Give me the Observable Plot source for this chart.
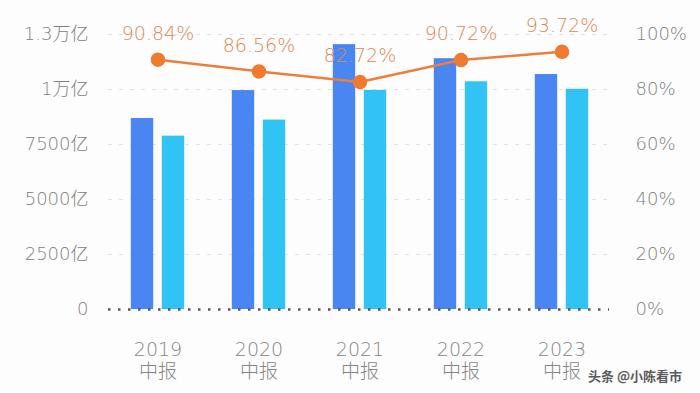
<!DOCTYPE html>
<html>
<head>
<meta charset="utf-8">
<script src="https://cdn.jsdelivr.net/npm/d3@7"></script>
<script src="https://cdn.jsdelivr.net/npm/@observablehq/plot@0.6"></script>
<style>
  html, body { margin: 0; padding: 0; background: #fdfdfd; }
  #chart { width: 700px; height: 393px; position: relative; }
  .wm { position: absolute; left: 588px; top: 366px; font: bold 13px "Noto Sans CJK SC", sans-serif; color: #333; opacity: 0.8; }
</style>
</head>
<body>
<div id="chart"></div>
<script>
// Data
const periods = ["2019\n中报", "2020\n中报", "2021\n中报", "2022\n中报", "2023\n中报"];
const seriesA = [8680, 9950, 12040, 11400, 10680];   // dark blue bars (亿)
const seriesB = [7880, 8610, 9960, 10350, 10010];    // light blue bars (亿)
const ratios = [90.84, 86.56, 82.72, 90.72, 93.72];  // orange line (%)
const leftTicks = [0, 2500, 5000, 7500, 10000, 12500];
const leftTickLabels = ["0", "2500亿", "5000亿", "7500亿", "1万亿", "1.3万亿"];
const rightTickLabels = ["0%", "20%", "40%", "60%", "80%", "100%"];

const maxLeft = 12500; // 100% on the right axis aligns with this value
const barsA = periods.map((p, i) => ({period: p, value: seriesA[i]}));
const barsB = periods.map((p, i) => ({period: p, value: seriesB[i]}));
const line = periods.map((p, i) => ({period: p, pct: ratios[i], y: ratios[i] / 100 * maxLeft}));

const band = (613 - 105) / periods.length;
const font = "'DejaVu Sans', 'Noto Sans CJK SC', sans-serif";

const plot = Plot.plot({
  width: 700,
  height: 393,
  marginLeft: 105,
  marginRight: 87,
  marginTop: 34,
  marginBottom: 84,
  style: {background: "#fdfdfd", fontFamily: font, fontWeight: 300},
  x: {domain: periods, padding: 0, label: null},
  y: {domain: [0, maxLeft], label: null},
  marks: [
    Plot.gridY(leftTicks.filter(d => d > 0), {stroke: "#e3e3e3", strokeOpacity: 1, strokeDasharray: "4,7", insetLeft: 3, insetRight: 4}),
    Plot.barY(barsA, {x: "period", y: "value", fill: "#4a86f2", insetLeft: band / 2 - 27, insetRight: band / 2 + 4}),
    Plot.barY(barsB, {x: "period", y: "value", fill: "#31c3f3", insetLeft: band / 2 + 4, insetRight: band / 2 - 27}),
    Plot.ruleY([0], {stroke: "#555", strokeWidth: 2.5, strokeDasharray: "2.5,7.5", insetLeft: 3, insetRight: 4}),
    Plot.axisY({ticks: leftTicks, tickFormat: d => leftTickLabels[leftTicks.indexOf(d)], tickSize: 0, tickPadding: 17, fontSize: 18, fill: "#808080", label: null}),
    Plot.axisY({anchor: "right", ticks: leftTicks, tickFormat: d => rightTickLabels[leftTicks.indexOf(d)], tickSize: 0, tickPadding: 22, fontSize: 18, fill: "#808080", label: null}),
    Plot.axisX({tickSize: 0, tickPadding: 31, fontSize: 19, fill: "#858585", label: null, lineHeight: 1.15}),
    Plot.lineY(line, {x: "period", y: "y", stroke: "#ec7f3e", strokeWidth: 2.5}),
    Plot.dot(line, {x: "period", y: "y", r: 6.5, fill: "#f07a30", stroke: "#f07a30"}),
    Plot.text(line, {x: "period", y: "y", text: d => d.pct.toFixed(2) + "%", dy: -26, fontSize: 19, fill: "#d98b55"})
  ]
});
document.getElementById("chart").appendChild(plot);
const wm = document.createElement("div");
wm.className = "wm";
wm.textContent = "头条 @小陈看市";
document.getElementById("chart").appendChild(wm);
</script>
</body>
</html>
